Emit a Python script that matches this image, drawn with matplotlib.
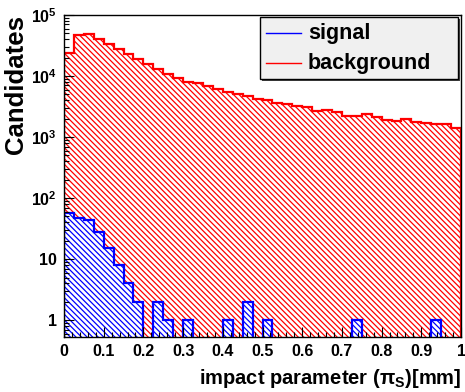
import numpy as np
import matplotlib.pyplot as plt
from matplotlib.ticker import FixedLocator, LogLocator, NullFormatter, AutoMinorLocator
from matplotlib.patches import Rectangle
from matplotlib.lines import Line2D

plt.rcParams['font.family'] = ['Liberation Sans', 'DejaVu Sans']
plt.rcParams['font.weight'] = 'bold'
plt.rcParams['mathtext.fontset'] = 'custom'
plt.rcParams['mathtext.rm'] = 'Liberation Sans:bold'
plt.rcParams['mathtext.bf'] = 'Liberation Sans:bold'
plt.rcParams['mathtext.it'] = 'Liberation Sans:bold:italic'
plt.rcParams['hatch.linewidth'] = 0.9

# 40 bins from 0 to 1
bin_edges = np.linspace(0, 1, 41)

background = [23600, 47000, 48200, 40400, 33500, 27400, 22700, 19000, 15700, 13200,
              10900, 9160, 8070, 7770, 6930, 6050, 5530, 5010, 4700, 4250,
              4050, 3680, 3460, 3260, 3060, 2720, 2770, 2540, 2210, 2210,
              2380, 2150, 1900, 1850, 1950, 1740, 1680, 1630, 1630, 1390]

signal = [58, 47, 43, 28, 15, 8, 4, 2, 0, 2,
          1, 0, 1, 0, 0, 0, 1, 0, 2, 0,
          1, 0, 0, 0, 0, 0, 0, 0, 0, 1,
          0, 0, 0, 0, 0, 0, 0, 1, 0, 0]

xticks = [0, 0.1, 0.2, 0.3, 0.4, 0.5, 0.6, 0.7, 0.8, 0.9, 1]
xticklabels = ['0', '0.1', '0.2', '0.3', '0.4', '0.5', '0.6', '0.7', '0.8', '0.9', '1']
yticks = [1, 10, 100, 1e3, 1e4, 1e5]
yticklabels = ['1', '10', r'$\mathbf{10^{2}}$', r'$\mathbf{10^{3}}$',
               r'$\mathbf{10^{4}}$', r'$\mathbf{10^{5}}$']

W, H = 465, 392
fig = plt.figure(figsize=(W / 100, H / 100), dpi=100)
ax = fig.add_axes([64 / W, 1 - 337 / H, 397 / W, 322 / H])

floor = 1e-3
bkg = np.array(background, dtype=float)
sig = np.where(np.array(signal) > 0, np.array(signal, dtype=float), floor)

hatch = '\\' * 6
# background: hatched fill then outline
ax.stairs(bkg, bin_edges, baseline=floor, fill=True, facecolor='none',
          edgecolor='red', hatch=hatch, linewidth=0)
ax.stairs(bkg, bin_edges, baseline=floor, color='red', linewidth=1.6)
# signal on top
ax.stairs(sig, bin_edges, baseline=floor, fill=True, facecolor='white',
          edgecolor='blue', hatch=hatch, linewidth=0)
ax.stairs(sig, bin_edges, baseline=floor, color='blue', linewidth=1.6)

ax.set_yscale('log')
ax.set_xlim(0, 1)
ax.set_ylim(0.53, 1e5)

ax.xaxis.set_major_locator(FixedLocator(xticks))
ax.set_xticklabels(xticklabels)
ax.xaxis.set_minor_locator(AutoMinorLocator(5))
ax.yaxis.set_major_locator(FixedLocator(yticks))
ax.set_yticklabels(yticklabels)
ax.yaxis.set_minor_locator(LogLocator(base=10, subs=np.arange(2, 10)))
ax.yaxis.set_minor_formatter(NullFormatter())

ax.tick_params(which='both', direction='in', top=False, right=False,
               labelsize=11.5, width=0.8)
ax.tick_params(which='major', length=7, pad=5)
ax.tick_params(which='minor', length=3.5)
for s in ax.spines.values():
    s.set_linewidth(1.0)
ax.set_axisbelow(False)

ax.set_xlabel(r'impact parameter (π$_\mathbf{S}$)[mm]', loc='right',
              fontsize=14.5, fontweight='bold', labelpad=6)
ax.set_ylabel('Candidates', loc='top', fontsize=18.5, fontweight='bold', labelpad=2)

# legend box drawn in axes coordinates
lx0, lx1 = (260 - 64) / 397, (458 - 64) / 397
ly0, ly1 = (337 - 79) / 322, 0.995
ax.add_patch(Rectangle((lx0 + 0.005, ly0 - 0.007), lx1 - lx0, ly1 - ly0,
                       transform=ax.transAxes, facecolor='#444444',
                       edgecolor='none', zorder=5, clip_on=False))
ax.add_patch(Rectangle((lx0, ly0), lx1 - lx0, ly1 - ly0, transform=ax.transAxes,
                       facecolor='#f0f0f0', edgecolor='black', linewidth=1.0,
                       zorder=6, clip_on=False))
entries = [('signal', 'blue', (337 - 33) / 322), ('background', 'red', (337 - 63) / 322)]
for label, col, yy in entries:
    ax.add_line(Line2D([(266 - 64) / 397, (301 - 64) / 397], [yy, yy],
                       transform=ax.transAxes, color=col, linewidth=1.0, zorder=7))
    ax.text((308 - 64) / 397, yy, label, transform=ax.transAxes, fontsize=15.5,
            fontweight='bold', va='center', ha='left', zorder=7)

fig.savefig('out.png', dpi=100)
